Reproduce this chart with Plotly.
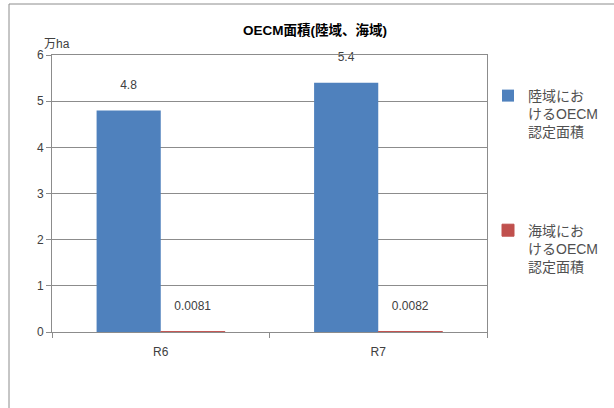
import plotly.graph_objects as go

categories = ["R6", "R7"]
land_values = [4.8, 5.4]
sea_values = [0.0081, 0.0082]
land_labels = ["4.8", "5.4"]
sea_labels = ["0.0081", "0.0082"]
land_name = "陸域にお<br>けるOECM<br>認定面積"
sea_name = "海域にお<br>けるOECM<br>認定面積"
title_text = "<b>OECM面積(陸域、海域)</b>"
unit_text = "万ha"

FONT = "Liberation Sans, Noto Sans CJK JP"
TXT = "#404040"
GRID = "#8c8c8c"
LABEL_TPL = "%{text}<br> "

fig = go.Figure()
fig.add_trace(go.Bar(
    x=categories, y=land_values, name=land_name,
    marker=dict(color="#4F81BD", line=dict(width=0)),
    text=land_labels, texttemplate=LABEL_TPL, textposition="outside", cliponaxis=False,
    textfont=dict(family=FONT, size=12, color=TXT),
    legendgroup="a",
))
fig.add_trace(go.Bar(
    x=categories, y=sea_values, name=sea_name,
    marker=dict(color="#C0504D", line=dict(color="#C0504D", width=1)),
    text=sea_labels, texttemplate=LABEL_TPL, textposition="outside", cliponaxis=False,
    textfont=dict(family=FONT, size=12, color=TXT),
    legendgroup="b",
))

L, R, T, B = 52, 127, 55, 76
W, H = 614, 408
pw, ph = W - L - R, H - T - B

fig.update_layout(
    width=W, height=H,
    margin=dict(l=L, r=R, t=T, b=B, pad=0, autoexpand=False),
    paper_bgcolor="white", plot_bgcolor="white",
    barmode="group", bargap=0.41, bargroupgap=0,
    font=dict(family=FONT, size=12, color=TXT),
    showlegend=True,
    legend=dict(
        xref="container", yref="container",
        x=488 / W, xanchor="left",
        y=1 - 80 / H, yanchor="top",
        font=dict(family=FONT, size=14, color="#505050"),
        tracegroupgap=77, itemwidth=30, valign="top",
        bgcolor="rgba(0,0,0,0)",
    ),
    title=dict(
        text=title_text, x=0.513, xanchor="center", y=1 - 30 / H, yanchor="middle",
        font=dict(family=FONT, size=13.5, color="#000000"),
    ),
    xaxis=dict(
        type="category", showgrid=False, showline=True, linecolor=GRID, linewidth=1,
        mirror=True, ticks="outside", tickson="boundaries", ticklen=5, tickcolor=GRID,
        ticklabelstandoff=9, automargin=False,
        tickfont=dict(family=FONT, size=12, color=TXT),
    ),
    yaxis=dict(
        range=[0, 6], dtick=1, showgrid=True, gridcolor=GRID, gridwidth=1,
        showline=True, linecolor=GRID, linewidth=1, mirror=True,
        ticks="outside", ticklen=5, tickcolor=GRID, zeroline=False, automargin=False,
        tickfont=dict(family=FONT, size=12, color=TXT),
    ),
    shapes=[dict(
        type="rect", xref="paper", yref="paper",
        x0=(9 - L) / pw, x1=1.6, y0=-0.6, y1=1 + (T - 4) / ph,
        line=dict(color="#8c8c8c", width=1), fillcolor="rgba(0,0,0,0)", layer="below",
    )],
    annotations=[dict(
        text=unit_text, xref="paper", yref="paper",
        x=(42 - L) / pw, xanchor="left", y=1 + (T - 44) / ph, yanchor="middle",
        showarrow=False, font=dict(family=FONT, size=12, color=TXT),
    )],
)

fig.write_html(
    "out.html",
    config={"displayModeBar": False},
    post_script="document.body.style.margin='0px';document.body.style.overflow='hidden';",
)
